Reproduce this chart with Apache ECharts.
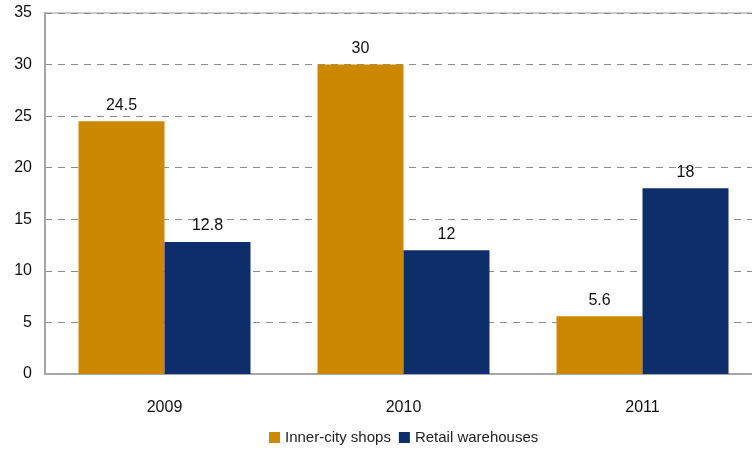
<!DOCTYPE html>
<html>
<head>
<meta charset="utf-8">
<script src="https://cdn.jsdelivr.net/npm/echarts@6/dist/echarts.min.js"></script>
<style>
  html, body { margin: 0; padding: 0; background: #fff; overflow: hidden; }
  #chart { width: 762px; height: 455px; }
</style>
</head>
<body>
<div id="chart"></div>
<script>
const categories = ['2009', '2010', '2011'];
const innerCityShops = [24.5, 30, 5.6];
const retailWarehouses = [12.8, 12, 18];
const seriesNames = ['Inner-city shops', 'Retail warehouses'];

const font = '"Liberation Sans", Arial, sans-serif';
const chart = echarts.init(document.getElementById('chart'));

chart.setOption({
  animation: false,
  grid: {
    left: 45, top: 13, width: 717, height: 361,
    show: true, borderColor: '#999999', borderWidth: 1, backgroundColor: 'transparent'
  },
  legend: {
    bottom: 5, left: 264,
    itemWidth: 11, itemHeight: 11, itemGap: 8,
    icon: 'rect',
    textStyle: { fontFamily: font, fontSize: 15, color: '#222' },
    data: seriesNames
  },
  xAxis: {
    type: 'category',
    data: categories,
    axisLine: { lineStyle: { color: '#a6a6a6', width: 2 } },
    axisTick: { inside: true, length: 7, lineStyle: { color: '#999999', width: 1 } },
    axisLabel: { fontFamily: font, fontSize: 16, color: '#111', margin: 26 }
  },
  yAxis: {
    type: 'value',
    min: 0, max: 35, interval: 5,
    axisLine: { show: true, lineStyle: { color: '#a6a6a6', width: 2 } },
    axisTick: { show: false },
    axisLabel: { fontFamily: font, fontSize: 16, color: '#111', margin: 13 },
    splitLine: { lineStyle: { color: '#8c8c8c', type: [7, 6], width: 1 } }
  },
  series: [
    {
      name: seriesNames[0], type: 'bar', data: innerCityShops,
      barWidth: 86, barGap: '0%',
      itemStyle: { color: '#cc8800' },
      label: { show: true, position: 'top', distance: 8, fontFamily: font, fontSize: 16, color: '#111' }
    },
    {
      name: seriesNames[1], type: 'bar', data: retailWarehouses,
      barWidth: 86, barGap: '0%',
      itemStyle: { color: '#0e2d6b' },
      label: { show: true, position: 'top', distance: 8, fontFamily: font, fontSize: 16, color: '#111' }
    }
  ]
});
</script>
</body>
</html>
